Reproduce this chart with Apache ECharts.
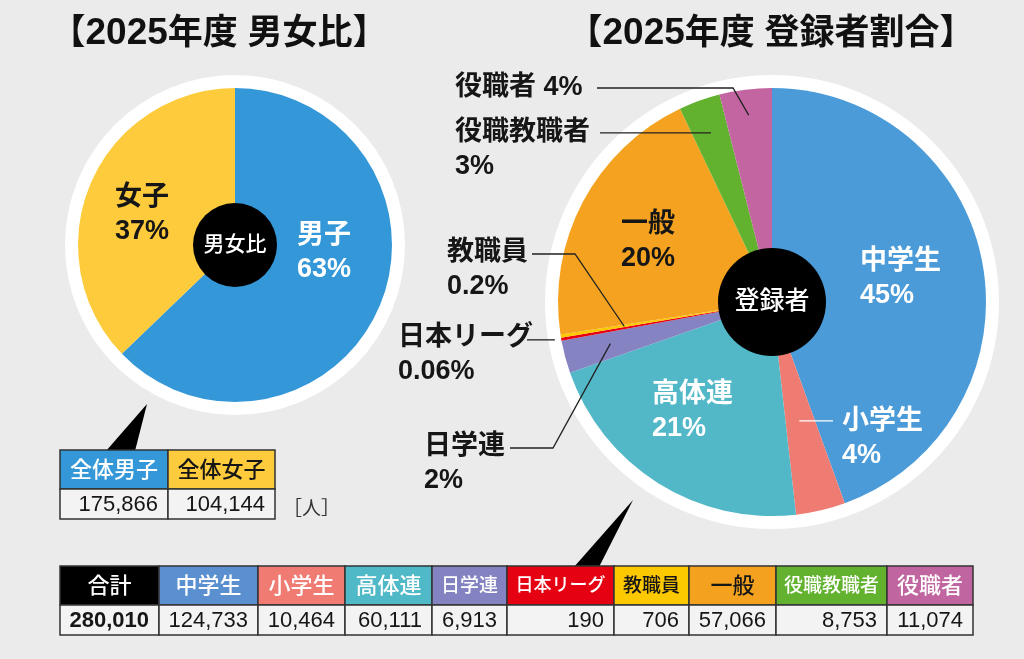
<!DOCTYPE html>
<html><head><meta charset="utf-8">
<script src="https://cdn.jsdelivr.net/npm/echarts@6/dist/echarts.min.js"></script>
<style>html,body{margin:0;padding:0;background:#ebebeb}#main{width:1024px;height:659px}</style>
</head><body><div id="main"></div>
<script>
// ---------- data ----------
const titleYear = '2025';
const titleGenderParts = ['【', '年度 男女比', '】'];
const titleRegParts = ['【', '年度 登録者割合', '】'];
const genderCategories = ['男子', '女子'];
const genderValues = [175866, 104144];
const genderLabels = ['63%', '37%'];
const genderCenterLabel = '男女比';
const genderTableHeaders = ['全体男子', '全体女子'];
const unitLabel = '［人］';

const regCategories = ['中学生', '小学生', '高体連', '日学連', '日本リーグ', '教職員', '一般', '役職教職者', '役職者'];
const regValues = [124733, 10464, 60111, 6913, 190, 706, 57066, 8753, 11074];
const regLabels = ['45%', '4%', '21%', '2%', '0.06%', '0.2%', '20%', '3%', '4%'];
const regCenterLabel = '登録者';
const totalLabel = '合計';

// ---------- styles ----------
const FONT = '"Liberation Sans","Noto Sans CJK JP",sans-serif';
const genderColors = ['#3498d8', '#fdcb3b'];
const genderLabelColors = ['#ffffff', '#161616'];
const regColors = ['#4a9bd8', '#ee7c72', '#52b8c8', '#8583c2', '#e60012', '#fcc800', '#f4a21f', '#63b22f', '#c265a1'];
const regLabelColors = ['#ffffff', '#ffffff', '#ffffff', '#161616', '#161616', '#161616', '#161616', '#161616', '#161616'];
const regLineColors = [null, '#ffffff', null, '#222', '#222', '#222', null, '#222', '#222'];
const regLabelSep = ['\n', '\n', '\n', '\n', '\n', '\n', '\n', '\n', ' '];
const headerColors = ['#000000', '#5a8fd0', '#ef7b73', '#4fb9c8', '#8483c1', '#e50012', '#fcc800', '#f4a11f', '#62b22f', '#c065a0'];
const headerTextColors = ['#fff', '#fff', '#fff', '#fff', '#fff', '#fff', '#161616', '#161616', '#fff', '#fff'];
const headerFontSizes = [22, 22, 22, 22, 19, 18, 19, 22, 19, 22];

// ---------- layout ----------
const G = { c: [235, 245], r: 157, ring: 170, hole: 42 };
const R = { c: [772, 302], r: 214, ring: 227, hole: 54 };
const genderLabelPos = [[297, 219, 'left'], [115, 181, 'left']];
const regLabelPos = [[860, 245, 'left'], [842, 405, 'left'], [652, 378, 'left'], [424, 430, 'left'],
  [398, 321, 'left'], [447, 236, 'left'], [648, 208, 'center'], [455, 116, 'left'], [455, 71, 'left']];
// leader lines: r = fraction of radius where the line ends (on the slice mid-angle), x0 = start x, optional elbow
const regLeaders = [null, { r: 0.57, x0: 833 }, null, { r: 0.78, x0: 510, y: 448, ex: 553 },
  { r: 1.03, x0: 527 }, { r: 0.70, x0: 532, y: 254, ex: 575 }, null, { r: 0.84, x0: 600 },
  { r: 0.88, x0: 597, y: 88, ex: 733 }];
const tableCols = [60, 159, 258, 345, 432, 507, 614, 689, 776, 887, 973];
const tableRows = [566, 605, 635];
const gTableCols = [60, 168, 275];
const gTableRows = [450, 489, 519];

function midPoint(values, i, c, r) {
  const total = values.reduce((a, b) => a + b, 0);
  let before = 0;
  for (let k = 0; k < i; k++) before += values[k];
  const a = (before + values[i] / 2) / total * 2 * Math.PI;
  return [c[0] + r * Math.sin(a), c[1] - r * Math.cos(a)];
}

const labelBase = { fontFamily: FONT, fontWeight: 'bold', fontSize: 27, lineHeight: 34, width: 240, overflow: 'none' };

function diskSeries(c, r, color, z, text, fs) {
  return {
    type: 'pie', center: c, radius: [0, r], silent: true, z: z, animation: false,
    data: [{ value: 1, name: text || '' }],
    itemStyle: { color: color, borderWidth: 0 },
    label: text ? { show: true, position: 'center', color: '#fff', fontFamily: FONT, fontSize: fs, fontWeight: 500 } : { show: false },
    labelLine: { show: false }, emphasis: { disabled: true }
  };
}

const series = [
  diskSeries(G.c, G.ring, '#ffffff', 1),
  {
    type: 'pie', center: G.c, radius: [0, G.r], startAngle: 90, clockwise: true, z: 2,
    animation: false, silent: true, avoidLabelOverlap: false,
    itemStyle: { borderWidth: 0 },
    data: genderCategories.map((n, i) => ({
      name: n, value: genderValues[i], itemStyle: { color: genderColors[i] },
      label: { color: genderLabelColors[i] }
    })),
    label: Object.assign({ show: true, position: 'inside', formatter: p => genderCategories[p.dataIndex] + '\n' + genderLabels[p.dataIndex] }, labelBase),
    labelLine: { show: false },
    labelLayout: p => {
      const pos = genderLabelPos[p.dataIndex];
      return { x: pos[0], y: pos[1], align: pos[2], verticalAlign: 'top' };
    }
  },
  diskSeries(G.c, G.hole, '#000000', 3, genderCenterLabel, 21),

  diskSeries(R.c, R.ring, '#ffffff', 1),
  {
    type: 'pie', center: R.c, radius: [0, R.r], startAngle: 90, clockwise: true, z: 2,
    animation: false, silent: true, avoidLabelOverlap: false, minAngle: 0.8,
    itemStyle: { borderWidth: 0 },
    data: regCategories.map((n, i) => ({
      name: n, value: regValues[i], itemStyle: { color: regColors[i] },
      label: { color: regLabelColors[i] }
    })),
    label: Object.assign({ show: true, position: 'inside', formatter: p => regCategories[p.dataIndex] + regLabelSep[p.dataIndex] + regLabels[p.dataIndex] }, labelBase),
    labelLine: { show: false },
    labelLayout: p => {
      const pos = regLabelPos[p.dataIndex];
      return { x: pos[0], y: pos[1], align: pos[2], verticalAlign: 'top' };
    }
  },
  diskSeries(R.c, R.hole, '#000000', 3, regCenterLabel, 25)
];

// ---------- graphics: titles, tables, pointers, leader lines ----------
const graphics = [];
function text(x, y, t, opt) {
  graphics.push({ type: 'text', x: x, y: y, silent: true, z: 10,
    style: Object.assign({ text: t, align: 'center', verticalAlign: 'middle', fill: '#161616', fontFamily: FONT, fontSize: 22 }, opt) });
}
function cell(x0, x1, y0, y1, fill) {
  graphics.push({ type: 'rect', silent: true, z: 5, shape: { x: x0, y: y0, width: x1 - x0, height: y1 - y0 },
    style: { fill: fill, stroke: '#333', lineWidth: 1.5 } });
}
const fmt = v => v.toLocaleString('en-US');

const titleRich = {
  b: { fontSize: 35, fontWeight: 'bold', fontFamily: FONT, fill: '#111' },
  d: { fontSize: 37, fontWeight: 'bold', fontFamily: FONT, fill: '#111' },
  c: { fontSize: 35, fontWeight: 'bold', fontFamily: FONT, fill: '#111' }
};
function title(x, parts) {
  text(x, 34, '{b|' + parts[0] + '}{d|' + titleYear + '}{c|' + parts[1] + '}{b|' + parts[2] + '}', { rich: titleRich });
}
title(219, titleGenderParts);
title(771, titleRegParts);

// pointers
graphics.push({ type: 'polygon', silent: true, z: 4, shape: { points: [[147, 404], [106, 451], [135, 451]] }, style: { fill: '#000' } });
graphics.push({ type: 'polygon', silent: true, z: 4, shape: { points: [[633, 500], [574, 567], [599, 567]] }, style: { fill: '#000' } });

// leader lines (end point on each slice's mid-angle, computed from the data)
regLeaders.forEach((L, i) => {
  if (!L) return;
  const end = midPoint(regValues, i, R.c, R.r * L.r);
  const pts = L.ex != null ? [[L.x0, L.y], [L.ex, L.y], end] : [[L.x0, end[1]], end];
  graphics.push({ type: 'polyline', silent: true, z: 20, shape: { points: pts },
    style: { stroke: regLineColors[i], lineWidth: 1.3, fill: null } });
});

// gender table
genderCategories.forEach((n, i) => {
  const x0 = gTableCols[i], x1 = gTableCols[i + 1];
  cell(x0, x1, gTableRows[0], gTableRows[1], genderColors[i]);
  cell(x0, x1, gTableRows[1], gTableRows[2], '#f3f3f3');
  text((x0 + x1) / 2, (gTableRows[0] + gTableRows[1]) / 2 + 1, genderTableHeaders[i], { fill: genderLabelColors[i], fontWeight: 500 });
  text(x1 - 10, (gTableRows[1] + gTableRows[2]) / 2 + 1, fmt(genderValues[i]), { align: 'right' });
});
text(283, 510, unitLabel, { align: 'left', fontSize: 19, fill: '#333' });

// registration table
const totalValue = regValues.reduce((a, b) => a + b, 0);
const headers = [totalLabel].concat(regCategories);
const values = [totalValue].concat(regValues);
headers.forEach((h, i) => {
  const x0 = tableCols[i], x1 = tableCols[i + 1];
  cell(x0, x1, tableRows[0], tableRows[1], headerColors[i]);
  cell(x0, x1, tableRows[1], tableRows[2], '#f3f3f3');
  text((x0 + x1) / 2, (tableRows[0] + tableRows[1]) / 2 + 1, h, { fill: headerTextColors[i], fontSize: headerFontSizes[i], fontWeight: 500 });
  text(x1 - 10, (tableRows[1] + tableRows[2]) / 2 + 1, fmt(values[i]), { align: 'right', fontWeight: i === 0 ? 'bold' : 'normal' });
});

const chart = echarts.init(document.getElementById('main'), null, { renderer: 'canvas' });
chart.setOption({
  backgroundColor: '#ebebeb',
  animation: false,
  series: series,
  graphic: { elements: graphics }
});
</script>
</body></html>
